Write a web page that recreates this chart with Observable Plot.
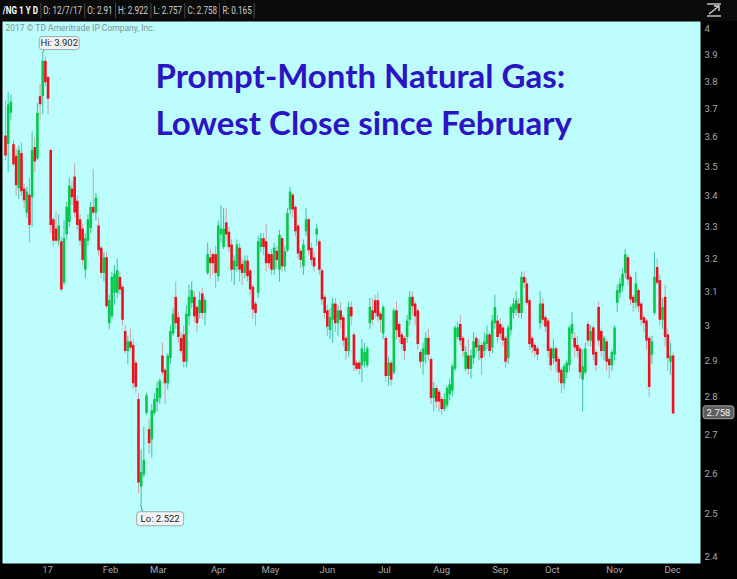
<!DOCTYPE html>
<html><head><meta charset="utf-8">
<script src="https://cdn.jsdelivr.net/npm/d3@7"></script>
<script src="https://cdn.jsdelivr.net/npm/@observablehq/plot@0.6"></script>
<style>
html,body{margin:0;padding:0;background:#000;}
body{width:737px;height:579px;overflow:hidden;font-family:Roboto,sans-serif;}
#hdr{position:relative;height:21px;background:#0b0b0b;}
#quote{position:absolute;left:2px;top:3px;display:flex;color:#cfcfcf;font-size:10.5px;transform:scaleX(0.77);transform-origin:0 0;white-space:nowrap;}
#quote span{height:15px;line-height:15px;border-right:1px solid #5a5a5a;padding:0 3px;}
#hdr svg{position:absolute;left:706px;top:3px;}
#chart{position:relative;}
</style></head><body>
<div id="hdr"><div id="quote"></div></div>
<div id="chart"></div>
<script>
// ---- data (daily /NG, Dec 2016 - Dec 7 2017) ----
const open = [3.60,3.58,3.69,3.57,3.53,3.43,3.54,3.42,3.35,3.40,3.40,3.56,3.53,3.74,3.75,3.87,3.81,3.55,3.32,3.29,
3.26,3.25,3.13,3.28,3.32,3.42,3.46,3.38,3.32,3.29,3.17,3.26,3.30,3.36,3.35,3.30,3.23,3.16,3.20,3.01,
3.03,3.10,3.10,3.14,3.11,2.98,2.93,2.95,2.94,2.89,2.79,2.57,2.60,2.76,2.71,2.69,2.76,2.79,2.80,2.91,
2.87,2.84,2.91,2.98,3.08,3.02,2.96,2.97,2.90,3.03,3.07,3.08,3.05,3.04,3.09,3.04,3.16,3.20,3.21,3.21,
3.15,3.28,3.24,3.31,3.28,3.24,3.17,3.18,3.23,3.18,3.16,3.19,3.16,3.11,3.06,3.10,3.24,3.26,3.25,3.21,
3.21,3.17,3.22,3.17,3.26,3.18,3.23,3.36,3.40,3.36,3.30,3.22,3.18,3.29,3.32,3.23,3.20,3.28,3.25,3.16,
3.08,3.04,2.99,3.02,3.06,3.01,3.04,3.02,2.96,2.93,3.05,2.97,2.89,2.89,2.89,2.90,2.89,3.01,3.04,3.07,
3.07,3.03,2.98,2.96,2.86,2.89,2.87,3.04,3.00,2.97,2.96,2.97,3.02,3.08,3.06,3.04,2.92,2.90,2.92,2.96,
2.90,2.80,2.82,2.81,2.79,2.77,2.78,2.81,2.82,2.88,2.97,3.00,2.96,2.88,2.91,2.88,2.91,2.96,2.93,2.94,
2.93,2.95,2.97,2.94,3.01,3.01,3.00,2.99,2.96,2.91,2.99,3.04,3.05,3.06,3.04,3.14,3.12,3.07,2.96,2.94,
2.93,3.01,3.06,3.02,3.01,2.93,2.91,2.93,2.90,2.87,2.84,2.87,2.89,2.98,2.96,2.94,2.93,2.85,2.87,3.00,
2.96,2.99,2.92,3.05,2.98,2.93,2.95,2.90,2.89,2.92,3.07,3.10,3.12,3.16,3.20,3.14,3.08,3.07,3.10,3.06,
3.02,3.01,2.96,2.92,3.04,3.17,3.13,3.02,3.08,2.97,2.90,2.91];
const high = [3.73,3.76,3.75,3.59,3.56,3.57,3.58,3.44,3.43,3.46,3.62,3.60,3.72,3.79,3.902,3.89,3.82,3.56,3.33,3.35,
3.34,3.27,3.32,3.38,3.46,3.45,3.51,3.40,3.34,3.31,3.28,3.34,3.38,3.49,3.41,3.33,3.24,3.22,3.22,3.09,
3.16,3.18,3.20,3.16,3.12,3.00,2.97,2.99,2.96,2.90,2.81,2.66,2.72,2.81,2.74,2.78,2.81,2.84,2.85,2.95,
2.88,2.92,3.00,3.05,3.13,3.04,2.98,3.00,3.06,3.12,3.13,3.10,3.06,3.10,3.11,3.08,3.25,3.23,3.22,3.24,
3.32,3.37,3.36,3.36,3.30,3.26,3.21,3.26,3.25,3.20,3.21,3.21,3.17,3.12,3.07,3.27,3.28,3.28,3.31,3.22,
3.23,3.25,3.24,3.29,3.27,3.24,3.36,3.43,3.41,3.37,3.31,3.23,3.26,3.36,3.33,3.25,3.22,3.31,3.26,3.17,
3.09,3.06,3.05,3.08,3.08,3.06,3.07,3.03,2.97,3.07,3.07,2.98,2.90,2.90,2.96,2.95,2.94,3.08,3.08,3.09,
3.10,3.04,3.06,2.97,2.91,2.90,3.05,3.07,3.01,2.98,2.97,3.03,3.10,3.10,3.07,3.05,2.93,2.95,2.98,2.99,
2.91,2.84,2.83,2.82,2.80,2.81,2.83,2.85,2.89,3.00,3.01,3.03,2.97,2.94,2.96,2.93,2.98,2.97,2.96,2.95,
2.98,3.00,2.98,3.03,3.09,3.03,3.02,3.00,2.97,3.00,3.06,3.08,3.10,3.08,3.16,3.16,3.14,3.08,2.97,2.95,
2.94,3.10,3.08,3.03,3.02,2.94,2.96,2.94,2.91,2.88,2.89,2.90,3.00,3.04,2.98,2.97,2.94,2.93,2.95,3.01,
3.00,3.00,2.93,3.07,2.99,2.97,2.96,2.91,2.93,3.00,3.12,3.14,3.17,3.23,3.21,3.15,3.09,3.16,3.11,3.07,
3.03,3.02,2.97,2.97,3.22,3.20,3.15,3.08,3.12,2.99,2.95,2.922];
const low = [3.52,3.48,3.66,3.50,3.40,3.39,3.40,3.36,3.33,3.25,3.30,3.48,3.52,3.66,3.68,3.78,3.68,3.28,3.24,3.25,
3.24,3.10,3.12,3.26,3.30,3.37,3.33,3.29,3.24,3.18,3.14,3.24,3.28,3.34,3.32,3.21,3.14,3.13,3.05,2.99,
3.02,3.06,3.08,3.09,3.00,2.92,2.89,2.93,2.82,2.81,2.55,2.522,2.59,2.75,2.65,2.64,2.75,2.76,2.78,2.86,
2.78,2.82,2.89,2.97,2.99,2.95,2.92,2.88,2.88,3.00,3.05,3.01,2.98,3.02,3.02,3.00,3.15,3.14,3.15,3.11,
3.13,3.25,3.23,3.26,3.22,3.13,3.12,3.16,3.13,3.12,3.14,3.13,3.09,3.02,3.00,3.08,3.22,3.21,3.16,3.17,
3.15,3.15,3.17,3.13,3.16,3.16,3.22,3.34,3.33,3.27,3.20,3.17,3.15,3.27,3.21,3.18,3.16,3.24,3.15,3.06,
3.02,2.97,2.96,2.95,2.98,2.97,2.99,2.94,2.90,2.91,3.00,2.87,2.87,2.86,2.84,2.88,2.88,2.99,3.00,3.02,
3.01,2.98,2.96,2.84,2.83,2.83,2.86,2.96,2.95,2.93,2.90,2.95,3.00,3.03,3.00,2.93,2.88,2.86,2.89,2.90,
2.78,2.76,2.77,2.76,2.75,2.76,2.77,2.79,2.80,2.87,2.96,2.94,2.91,2.87,2.86,2.85,2.89,2.92,2.90,2.86,
2.91,2.93,2.91,2.92,2.99,2.95,2.96,2.94,2.88,2.89,2.97,3.02,3.03,3.02,3.02,3.11,3.06,2.93,2.92,2.91,
2.90,2.99,3.00,2.98,2.91,2.87,2.89,2.87,2.84,2.81,2.82,2.85,2.87,2.96,2.91,2.91,2.85,2.76,2.86,2.94,
2.94,2.90,2.87,2.94,2.91,2.90,2.87,2.85,2.87,2.90,3.04,3.08,3.10,3.14,3.12,3.06,3.04,3.05,3.04,3.00,
2.98,2.93,2.80,2.89,3.03,3.12,3.00,2.99,2.94,2.87,2.86,2.757];
const close = [3.54,3.71,3.72,3.51,3.44,3.55,3.42,3.39,3.41,3.31,3.55,3.52,3.68,3.72,3.87,3.80,3.74,3.31,3.26,3.26,
3.30,3.11,3.26,3.36,3.43,3.40,3.35,3.31,3.26,3.20,3.26,3.32,3.36,3.35,3.39,3.23,3.16,3.20,3.06,3.07,
3.14,3.15,3.16,3.11,3.02,2.93,2.95,2.94,2.84,2.83,2.58,2.60,2.63,2.80,2.68,2.76,2.79,2.82,2.84,2.87,
2.84,2.91,2.98,3.03,3.01,2.97,2.93,2.90,3.03,3.08,3.10,3.03,3.01,3.07,3.04,3.07,3.21,3.19,3.19,3.16,
3.30,3.29,3.29,3.28,3.24,3.17,3.19,3.24,3.17,3.16,3.19,3.15,3.11,3.05,3.04,3.25,3.26,3.24,3.19,3.19,
3.17,3.23,3.20,3.27,3.18,3.22,3.34,3.41,3.36,3.29,3.22,3.20,3.24,3.32,3.23,3.20,3.18,3.29,3.17,3.08,
3.04,3.00,3.02,3.06,3.01,3.04,3.02,2.96,2.93,3.05,3.03,2.89,2.88,2.88,2.93,2.92,2.93,3.05,3.02,3.04,
3.03,3.02,3.05,2.86,2.89,2.85,3.04,2.99,2.97,2.95,2.93,3.01,3.08,3.06,3.03,2.95,2.90,2.93,2.96,2.92,
2.80,2.82,2.79,2.79,2.77,2.79,2.82,2.83,2.88,2.99,2.99,2.96,2.93,2.92,2.88,2.91,2.95,2.94,2.94,2.91,
2.95,2.97,2.93,3.01,3.05,2.97,2.98,2.96,2.90,2.99,3.05,3.06,3.07,3.04,3.14,3.13,3.07,2.95,2.94,2.93,
2.92,3.06,3.02,3.00,2.93,2.89,2.93,2.90,2.87,2.84,2.88,2.89,2.99,3.00,2.94,2.93,2.87,2.88,2.93,2.96,
2.98,2.92,2.89,2.96,2.93,2.96,2.90,2.89,2.92,2.99,3.10,3.12,3.15,3.21,3.14,3.08,3.07,3.12,3.06,3.02,
3.01,2.96,2.83,2.95,3.14,3.13,3.02,3.05,2.97,2.91,2.91,2.758];

// month labels on the time axis (position = candle index where the label sits)
const monthPos = [15.8, 39.5, 57.5, 80, 99.6, 121, 142.5, 164, 186, 205.6, 229, 250.8];
const monthLabels = ["17","Feb","Mar","Apr","May","Jun","Jul","Aug","Sep","Oct","Nov","Dec"];
// price axis
const yTicks = [4, 3.9, 3.8, 3.7, 3.6, 3.5, 3.4, 3.3, 3.2, 3.1, 3, 2.9, 2.8, 2.7, 2.6, 2.5, 2.4];
const yTickLabels = ["4","3.9","3.8","3.7","3.6","3.5","3.4","3.3","3.2","3.1","3","2.9","2.8","2.7","2.6","2.5","2.4"];
// header quote
const headerItems = ["/NG 1 Y D","D: 12/7/17","O: 2.91","H: 2.922","L: 2.757","C: 2.758","R: 0.165"];
const hiValue = 3.902, loValue = 2.522, lastValue = 2.758;
const titleLines = "Prompt-Month Natural Gas:\nLowest Close since February";
const copyright = "2017 \u00A9 TD Ameritrade IP Company, Inc.";

// ---- header ----
const quote = document.getElementById("quote");
headerItems.forEach((t, k) => {
  const s = document.createElement("span");
  s.textContent = t;
  if (k === 0) { s.style.fontWeight = "bold"; s.style.color = "#fff"; s.style.paddingLeft = "1px"; }
  quote.appendChild(s);
});
document.getElementById("hdr").insertAdjacentHTML("beforeend",
  '<svg width="16" height="14"><g stroke="#ddd" stroke-width="1.3" fill="none"><line x1="1" y1="1" x2="15" y2="1"/><line x1="1" y1="13" x2="15" y2="13"/><line x1="3" y1="11" x2="13" y2="3"/><polyline points="8,3 13,3 13,8"/></g></svg>');

// ---- chart ----
const data = close.map((c, i) => ({i, o: open[i], h: high[i], l: low[i], c}));
const isUp = d => d.c >= d.o;
const GREEN = "#06c84a", RED = "#ea121c", GWICK = "#38c4a0", RWICK = "#c8a2a6";
const FONT = '"Liberation Sans Narrow", Roboto, sans-serif';

const chart = Plot.plot({
  width: 737,
  height: 558,
  marginTop: 0,
  marginBottom: 16,
  marginLeft: 2,
  marginRight: 37,
  style: {background: "#000", color: "#a9a9a9", fontSize: "9.5px", fontFamily: FONT},
  x: {domain: [-1.13, 261.3], ticks: monthPos, tickFormat: d => monthLabels[monthPos.indexOf(d)], tickSize: 0, tickPadding: 3, label: null},
  y: {type: "log", domain: [2.3838, 4.027], ticks: yTicks, tickFormat: d => yTickLabels[yTicks.indexOf(d)], tickSize: 0, tickPadding: 4, label: null, axis: "right"},
  marks: [
    Plot.frame({fill: "#bdfdfd", stroke: null}),
    Plot.text([copyright], {frameAnchor: "top-left", dx: 3, dy: 3, fontSize: 8.5, fill: "#7a9494", fontFamily: "Roboto, sans-serif"}),
    Plot.text([titleLines], {frameAnchor: "top-left", dx: 153, dy: 33, fontSize: 33, fontWeight: "bold", fill: "#2b14c6", lineHeight: 1.42, fontFamily: "Lato, sans-serif"}),
    Plot.ruleX(data, {x: "i", y1: "l", y2: "h", stroke: d => isUp(d) ? GWICK : RWICK, strokeWidth: 1}),
    Plot.ruleX(data, {x: "i", y1: "o", y2: "c", stroke: d => isUp(d) ? GREEN : RED, strokeWidth: 2.6, strokeLinecap: "square"})
  ]
});
document.getElementById("chart").appendChild(chart);

// ---- annotations positioned through the chart's scales ----
const sx = chart.scale("x"), sy = chart.scale("y");
const svg = d3.select(chart);
const ann = svg.append("g").attr("font-family", FONT);
function box(cx, cy, bx, by, w, h, label, lx, ly) {
  ann.append("line").attr("x1", cx).attr("y1", cy).attr("x2", lx).attr("y2", ly).attr("stroke", "#2aa88a").attr("stroke-width", 1);
  ann.append("rect").attr("x", bx).attr("y", by).attr("width", w).attr("height", h).attr("rx", 3)
    .attr("fill", "#f0f4f4").attr("stroke", "#9aa").attr("stroke-width", 1);
  ann.append("text").attr("x", bx + w / 2).attr("y", by + h / 2).attr("dy", "0.35em").attr("text-anchor", "middle")
    .attr("font-size", 9.5).attr("fill", "#222").text(label);
}
const iHi = high.indexOf(hiValue), iLo = low.indexOf(loValue);
const hx = sx.apply(iHi), hy = sy.apply(hiValue);
box(hx, hy, hx - 3, hy - 17, 40, 13, "Hi: " + hiValue, hx + 2, hy - 4);
const lx = sx.apply(iLo), ly = sy.apply(loValue);
box(lx, ly, lx - 4, ly + 7, 47, 14, "Lo: " + loValue, lx + 2, ly + 7);
// last price tag on the right axis
const py = sy.apply(lastValue);
svg.append("rect").attr("x", 703).attr("y", py - 6.5).attr("width", 31).attr("height", 13).attr("rx", 3)
  .attr("fill", "#5e5e5e").attr("stroke", "#bbb").attr("stroke-width", 0.8);
svg.append("text").attr("x", 718.5).attr("y", py).attr("dy", "0.35em").attr("text-anchor", "middle")
  .attr("font-size", 9.5).attr("fill", "#f2f2f2").attr("font-family", FONT).text(lastValue);
</script>
</body></html>
